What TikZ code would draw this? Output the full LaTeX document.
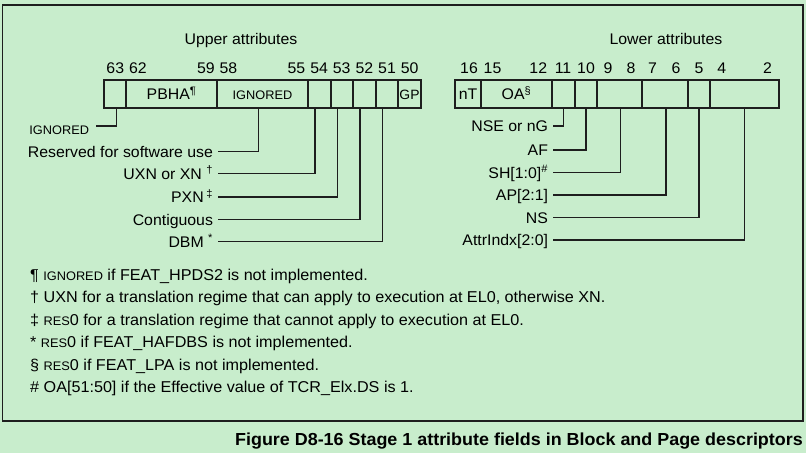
\documentclass[tikz,border=0pt]{standalone}
\usepackage{fontspec}
\setmainfont[FakeStretch=1.03]{Liberation Sans}
\definecolor{figgreen}{RGB}{200,237,204}
\definecolor{figline}{RGB}{30,30,30}
\newcommand{\smc}[1]{{\fontsize{12.4}{14}\selectfont #1}}
\tikzset{
  txt/.style={inner sep=0pt,font=\fontsize{15.4}{18}\selectfont},
  head/.style={txt,anchor=base},
  bitno/.style={txt,anchor=base},
  fld/.style={txt,draw=figline,line width=1.2pt,outer sep=0pt,anchor=north west,
    minimum height=28pt,text height=11pt,text depth=0pt},
  lbl/.style={txt,anchor=east,outer xsep=5pt,text height=11pt,text depth=0pt},
  wire/.style={draw=figline,line width=1.1pt},
  note/.style={txt,anchor=base west,font=\fontsize{15.7}{18}\selectfont}
}
\begin{document}
\begin{tikzpicture}[x=1pt,y=-1pt]
\fill[figgreen] (0,0) rectangle (806,453);
\useasboundingbox (0,0) rectangle (806,453);
\draw[figline,line width=1.5pt] (2.5,5) rectangle (803,421);

% headings
\node[head] (up) at (241,44) {Upper attributes};
\node[head] (low) at (666,44) {Lower attributes};

% bit numbers
\foreach \b/\x in {63/115.3,62/138,59/205.9,58/228.5,55/296.4,54/319.1,53/341.7,52/364.4,51/387,50/409.7,
  16/469,15/492.5,12/538.3,11/563,10/586,9/608,8/631,7/652.5,6/676,5/699,4/721.7,2/767.5}
  \node[bitno] (b\b) at (\x,73) {\b};

% upper attribute fields
\node[fld,minimum width=22pt] (f63) at (104,80) {};
\node[fld,minimum width=91pt] (f62) at (126,80) {PBHA\textsuperscript{¶}};
\node[fld,minimum width=91pt] (f58) at (217,80) {\smc{IGNORED}};
\node[fld,minimum width=23pt] (f54) at (308,80) {};
\node[fld,minimum width=22pt] (f53) at (331,80) {};
\node[fld,minimum width=23pt] (f52) at (353,80) {};
\node[fld,minimum width=22pt] (f51) at (376,80) {};
\node[fld,minimum width=23pt,font=\fontsize{13.5}{16}\selectfont] (f50) at (398,80) {GP};

% lower attribute fields
\node[fld,minimum width=26pt] (f16) at (455,80) {nT};
\node[fld,minimum width=71pt] (f15) at (481,80) {OA\textsuperscript{\S}};
\node[fld,minimum width=23pt] (f11) at (552,80) {};
\node[fld,minimum width=22pt] (f10) at (575,80) {};
\node[fld,minimum width=45pt] (f9) at (597,80) {};
\node[fld,minimum width=46pt] (f7) at (642,80) {};
\node[fld,minimum width=22pt] (f5) at (688,80) {};
\node[fld,minimum width=69pt] (f4) at (710,80) {};

% upper labels
\node[lbl,anchor=base east,outer xsep=7pt] (ign) at (96,134) {\smc{IGNORED}};
\node[lbl] (rsv) at (218,151.5) {Reserved for software use};
\node[lbl] (uxn) at (218,173.5) {UXN or XN \textsuperscript{†}};
\node[lbl] (pxn) at (218,197) {PXN\,\textsuperscript{‡}};
\node[lbl] (cont) at (218,219.5) {Contiguous};
\node[lbl] (dbm) at (218,241.5) {DBM \textsuperscript{*}};
\draw[wire] (ign.base east) ++(0,-8) -| ([xshift=1.5pt]f63.south);
\draw[wire] (rsv.east) -| ([xshift=-4pt]f58.south);
\draw[wire] (uxn.east) -| ([xshift=-4.5pt]f54.south);
\draw[wire] (pxn.east) -| ([xshift=-4.5pt]f53.south);
\draw[wire] (cont.east) -| ([xshift=-4.5pt]f52.south);
\draw[wire] (dbm.east) -| ([xshift=-4.5pt]f51.south);

% lower labels
\node[lbl] (nse) at (553,126) {NSE or nG};
\node[lbl] (af) at (553,150) {AF};
\node[lbl] (sh) at (553,172.5) {SH[1:0]\textsuperscript{\#}};
\node[lbl] (ap) at (553,195) {AP[2:1]};
\node[lbl] (ns) at (553,217.5) {NS};
\node[lbl] (attr) at (553,240) {AttrIndx[2:0]};
\draw[wire] (nse.east) -| (f11.south);
\draw[wire] (af.east) -| (f10.south);
\draw[wire] (sh.east) -| ([xshift=1pt]f9.south);
\draw[wire] (ap.east) -| ([xshift=1pt]f7.south);
\draw[wire] (ns.east) -| (f5.south);
\draw[wire] (attr.east) -| (f4.south);

% footnotes
\node[note] (n1) at (30,280.3) {¶ \smc{IGNORED} if FEAT\_HPDS2 is not implemented.};
\node[note] (n2) at (30,302.8) {† UXN for a translation regime that can apply to execution at EL0, otherwise XN.};
\node[note] (n3) at (30,325.3) {‡ \smc{RES}0 for a translation regime that cannot apply to execution at EL0.};
\node[note] (n4) at (30,347.8) {* \smc{RES}0 if FEAT\_HAFDBS is not implemented.};
\node[note] (n5) at (30,370.3) {\S{} \smc{RES}0 if FEAT\_LPA is not implemented.};
\node[note] (n6) at (30,392.8) {\# OA[51:50] if the Effective value of TCR\_Elx.DS is 1.};

% caption
\node[note,anchor=base east,font=\bfseries\fontsize{17.4}{20}\selectfont] (cap) at (803,445)
  {Figure D8-16 Stage 1 attribute fields in Block and Page descriptors};
\end{tikzpicture}
\end{document}
